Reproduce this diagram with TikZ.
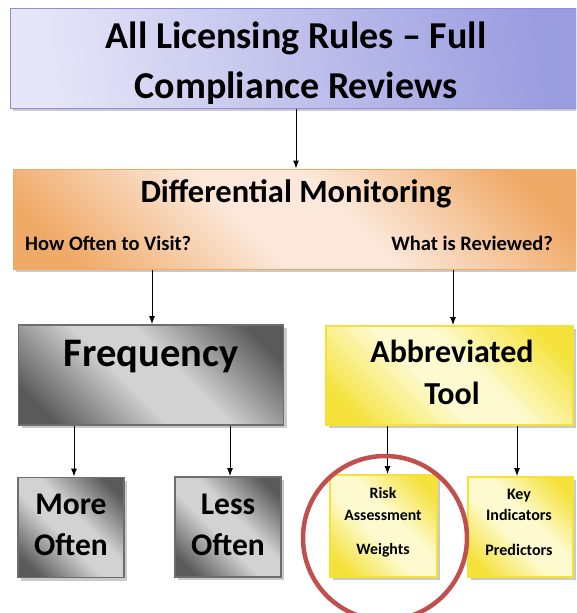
\documentclass[tikz,border=0pt]{standalone}
\usepackage{fontspec}
\setmainfont{Carlito}
\usetikzlibrary{arrows.meta,shadows,shapes.geometric}
\definecolor{lavL}{HTML}{E6E6F8}
\definecolor{lavR}{HTML}{9A9CE0}
\definecolor{lavB}{HTML}{8C8FD8}
\definecolor{orE}{HTML}{F0AA68}
\definecolor{orM}{HTML}{FBE8DA}
\definecolor{grD}{HTML}{5A5A5A}
\definecolor{grM}{HTML}{D2D2D2}
\definecolor{grB}{HTML}{6E6E6E}
\definecolor{yeE}{HTML}{F4E23A}
\definecolor{yeM}{HTML}{FDFAD0}
\definecolor{redC}{HTML}{C0504D}
\pgfdeclareverticalshading{grayshade}{100bp}{color(0bp)=(grD); color(22bp)=(grD); color(44bp)=(grM); color(56bp)=(grM); color(78bp)=(grD); color(100bp)=(grD)}
\pgfdeclareverticalshading{orshade}{100bp}{color(0bp)=(orE); color(22bp)=(orE); color(44bp)=(orM); color(56bp)=(orM); color(78bp)=(orE); color(100bp)=(orE)}
\pgfdeclareverticalshading{yelshade}{100bp}{color(0bp)=(yeE); color(22bp)=(yeE); color(44bp)=(yeM); color(56bp)=(yeM); color(78bp)=(yeE); color(100bp)=(yeE)}
\tikzset{
  boxbase/.style={rectangle, inner sep=0pt, drop shadow={shadow xshift=3pt, shadow yshift=-3pt, fill=black!35, opacity=0.6}},
  lavbox/.style={boxbase, draw=lavB, line width=1pt, left color=lavL, right color=lavR, shading angle=100},
  orbox/.style={boxbase, draw=orE, line width=1pt, shading=orshade, shading angle=135},
  graybox/.style={boxbase, draw=grB, line width=1.8pt, shading=grayshade, shading angle=135},
  yelbox/.style={boxbase, draw=yeE, line width=1.8pt, shading=yelshade, shading angle=135},
  lbl/.style={font=\bfseries, text=black, inner sep=0pt, align=center},
  arr/.style={-{Latex[length=8pt,width=6pt]}, line width=1pt, black},
}
\begin{document}
\begin{tikzpicture}[x=1pt,y=-1pt]
\useasboundingbox (0,0) rectangle (576,613);
\clip (0,0) rectangle (576,613);
% boxes
\node[lavbox, minimum width=566pt, minimum height=100pt] (top) at (293,58) {};
\node[orbox, minimum width=563pt, minimum height=100pt] (dm) at (294.5,219) {};
\node[graybox, minimum width=265pt, minimum height=100pt] (freq) at (151,375) {};
\node[yelbox, minimum width=247pt, minimum height=99pt] (abbr) at (449.5,375.5) {};
\node[graybox, minimum width=106pt, minimum height=100pt] (more) at (71,527.5) {};
\node[graybox, minimum width=106pt, minimum height=100pt] (less) at (228,527) {};
\node[yelbox, minimum width=107pt, minimum height=102pt] (risk) at (383.5,526) {};
\node[yelbox, minimum width=105pt, minimum height=100pt] (key) at (520.5,527) {};
% texts
\node[lbl, font=\bfseries\fontsize{38}{50}\selectfont] (toptxt) at (296,63) {All Licensing Rules -- Full\\Compliance Reviews};
\node[lbl, font=\bfseries\fontsize{32.5}{36}\selectfont] (dmtxt) at (296,194) {Differential Monitoring};
\node[lbl, font=\bfseries\fontsize{20.5}{24}\selectfont, anchor=west] (howtxt) at (25,243) {How Often to Visit?};
\node[lbl, font=\bfseries\fontsize{20.5}{24}\selectfont, anchor=east] (whattxt) at (553,243) {What is Reviewed?};
\node[lbl, font=\bfseries\fontsize{40.5}{44}\selectfont] (freqtxt) at (151,357) {Frequency};
\node[lbl, font=\bfseries\fontsize{32}{42}\selectfont] (abbrtxt) at (452,372) {Abbreviated\\Tool};
\node[lbl, font=\bfseries\fontsize{31.5}{41}\selectfont] (moretxt) at (71,525) {More\\Often};
\node[lbl, font=\bfseries\fontsize{31.5}{41}\selectfont] (lesstxt) at (228,525) {Less\\Often};
\node[lbl, font=\bfseries\fontsize{15.8}{22}\selectfont] (risktxt) at (383,522) {Risk\\Assessment\\[12pt]Weights};
\node[lbl, font=\bfseries\fontsize{16}{21}\selectfont] (keytxt) at (519,522) {Key\\Indicators\\[14pt]Predictors};
% connectors
\draw[arr] (top.south -| dmtxt) -- (dm.north -| dmtxt);
\draw[arr] ([xshift=1pt]dm.south -| freq.north) -- ([xshift=1pt]freq.north);
\draw[arr] ([xshift=3.5pt]dm.south -| abbr.north) -- ([xshift=3.5pt]abbr.north);
\draw[arr] ([xshift=3pt]freq.south -| more.north) -- ([xshift=3pt]more.north);
\draw[arr] ([xshift=2pt]freq.south -| less.north) -- ([xshift=2pt]less.north);
\draw[arr] ([xshift=4pt]abbr.south -| risk.north) -- ([xshift=4pt]risk.north);
\draw[arr] ([xshift=-3.5pt]abbr.south -| key.north) -- ([xshift=-3.5pt]key.north);
% highlight circle
\node[draw=redC, line width=4.5pt, ellipse, minimum width=164pt, minimum height=164pt, inner sep=0pt] (ring) at (385,538) {};
\end{tikzpicture}
\end{document}
